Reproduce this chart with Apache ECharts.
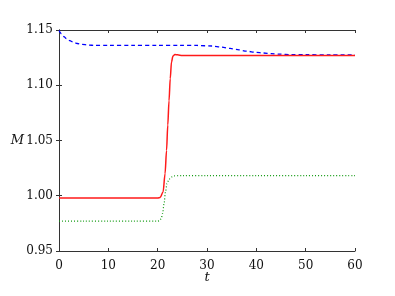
<!DOCTYPE html>
<html><head><meta charset="utf-8">
<script src="https://cdn.jsdelivr.net/npm/echarts@6/dist/echarts.min.js"></script>
<style>html,body{margin:0;padding:0;background:#fff}#c{width:395px;height:296px}</style>
</head><body><div id="c"></div>
<script>
// Data
const xTicks = [0, 10, 20, 30, 40, 50, 60];
const yTicks = [0.95, 1.00, 1.05, 1.10, 1.15];

const redT = [0, 5, 10, 15, 20, 20.5, 21.1, 21.5, 21.8, 22.05, 22.3, 22.55, 22.8, 23.1, 23.5, 24, 25, 30, 40, 50, 60];
const redM = [0.998, 0.998, 0.998, 0.998, 0.998, 0.9985, 1.0035, 1.02, 1.041, 1.064, 1.086, 1.106, 1.121, 1.1265, 1.1278, 1.1275, 1.127, 1.127, 1.127, 1.127, 1.127];

const blueT = [0, 0.5, 1, 1.5, 2.2, 2.9, 3.7, 4.6, 6, 7.3, 10, 15, 20, 24.5, 28, 31, 33, 34.7, 36.5, 38, 40, 41.4, 43, 44.8, 47, 50, 55, 60];
const blueM = [1.1495, 1.1465, 1.144, 1.1422, 1.1403, 1.139, 1.1378, 1.137, 1.1364, 1.136, 1.136, 1.136, 1.136, 1.1361, 1.136, 1.1355, 1.1345, 1.1333, 1.132, 1.1308, 1.1298, 1.1292, 1.1286, 1.1281, 1.1277, 1.1276, 1.1275, 1.1275];

const greenT = [0, 5, 10, 15, 20, 20.4, 20.7, 21.0, 21.3, 21.6, 21.9, 22.3, 22.8, 23.3, 25, 30, 40, 50, 60];
const greenM = [0.977, 0.977, 0.977, 0.977, 0.977, 0.9775, 0.979, 0.984, 0.993, 1.004, 1.011, 1.015, 1.017, 1.018, 1.0183, 1.0183, 1.0183, 1.0183, 1.0183];

const zip = (a, b) => a.map((v, i) => [v, b[i]]);

const font = '"DejaVu Serif", "Liberation Serif", serif';
const axisCol = '#333';

const chart = echarts.init(document.getElementById('c'), null, {renderer: 'canvas'});
chart.setOption({
  animation: false,
  backgroundColor: '#fff',
  grid: {left: 59, right: 40, top: 30, bottom: 45, containLabel: false},
  xAxis: [
    {type: 'value', min: xTicks[0], max: xTicks[xTicks.length - 1], interval: 10, position: 'bottom',
     name: 't', nameLocation: 'middle', nameGap: 20, nameMoveOverlap: false,
     nameTextStyle: {fontFamily: font, fontStyle: 'italic', fontSize: 13, color: '#111'},
     axisLine: {show: true, lineStyle: {color: axisCol, width: 1}},
     axisTick: {show: true, inside: true, length: 3, lineStyle: {color: axisCol}},
     axisLabel: {show: true, margin: 9, fontFamily: font, fontSize: 12, color: '#111'},
     splitLine: {show: false}},
    {type: 'value', min: xTicks[0], max: xTicks[xTicks.length - 1], interval: 10, position: 'top',
     axisLine: {show: true, lineStyle: {color: axisCol, width: 1}},
     axisTick: {show: true, inside: true, length: 3, lineStyle: {color: axisCol}},
     axisLabel: {show: false}, splitLine: {show: false}}
  ],
  yAxis: [
    {type: 'value', min: yTicks[0], max: yTicks[yTicks.length - 1], interval: 0.05, position: 'left',
     name: 'M', nameLocation: 'middle', nameGap: 35, nameRotate: 0, nameMoveOverlap: false,
     nameTextStyle: {fontFamily: font, fontStyle: 'italic', fontSize: 13, color: '#111'},
     axisLine: {show: true, lineStyle: {color: axisCol, width: 1}},
     axisTick: {show: true, inside: true, length: 3, lineStyle: {color: axisCol}},
     axisLabel: {show: true, margin: 6, fontFamily: font, fontSize: 12, color: '#111',
       formatter: v => v.toFixed(2)},
     splitLine: {show: false}},
    {type: 'value', min: yTicks[0], max: yTicks[yTicks.length - 1], interval: 0.05, position: 'right',
     axisLine: {show: true, lineStyle: {color: axisCol, width: 1}},
     axisTick: {show: true, inside: true, length: 3, lineStyle: {color: axisCol}},
     axisLabel: {show: false}, splitLine: {show: false}}
  ],
  series: [
    {type: 'line', name: 'blue', data: zip(blueT, blueM), showSymbol: false, smooth: 0.3, smoothMonotone: 'x',
     lineStyle: {color: '#0000ff', width: 1.3, type: [4, 3]}, z: 2},
    {type: 'line', name: 'green', data: zip(greenT, greenM), showSymbol: false, smooth: 0.3, smoothMonotone: 'x',
     lineStyle: {color: '#129a12', width: 1.2, type: [1, 2]}, z: 2},
    {type: 'line', name: 'red', data: zip(redT, redM), showSymbol: false, smooth: 0.3, smoothMonotone: 'x',
     lineStyle: {color: '#ff1a1a', width: 1.5}, z: 3}
  ]
});
</script></body></html>
